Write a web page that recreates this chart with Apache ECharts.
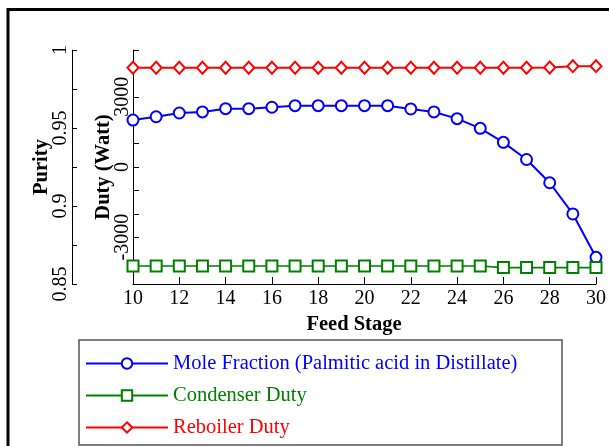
<!DOCTYPE html>
<html><head><meta charset="utf-8">
<script src="https://cdn.jsdelivr.net/npm/echarts@6/dist/echarts.min.js"></script>
<style>html,body{margin:0;padding:0;background:#fff}#c{width:609px;height:446px}</style>
</head><body><div id="c"></div>
<script>
const stages = [10,11,12,13,14,15,16,17,18,19,20,21,22,23,24,25,26,27,28,29,30];
const moleFraction = [0.9551,0.9572,0.9596,0.9603,0.9624,0.9624,0.9633,0.9643,0.9643,0.9643,0.9643,0.9643,0.9622,0.9603,0.9560,0.9498,0.9408,0.9298,0.9149,0.8949,0.8671];
const condenserDuty = [-4230,-4230,-4230,-4230,-4230,-4230,-4230,-4230,-4230,-4230,-4230,-4230,-4230,-4230,-4230,-4230,-4300,-4300,-4300,-4300,-4300];
const reboilerDuty = [4240,4240,4240,4240,4240,4240,4240,4240,4240,4240,4240,4240,4240,4240,4240,4240,4240,4240,4250,4310,4310];
const purityTicks = [0.85,0.875,0.9,0.925,0.95,0.975,1];
const purityLabels = [0.85,0.9,0.95,1];
const dutyTicks = [-5000,-3000,-2000,-1000,0,1000,3000,5000];
const dutyLabels = [-3000,0,3000];
const xTicks = [10,12,14,16,18,20,22,24,26,28,30];
const seriesNames = ['Mole Fraction (Palmitic acid in Distillate)','Condenser Duty','Reboiler Duty'];
const colors = ['#0000ff','#008000','#ff0000'];

const FONT = 'Liberation Serif';
const chart = echarts.init(document.getElementById('c'), null, {renderer:'canvas'});
const pair = arr => stages.map((s,i)=>[s,arr[i]]);
chart.setOption({
  animation:false,
  backgroundColor:'#fff',
  textStyle:{fontFamily:FONT},
  grid:{left:133,right:11,top:50,bottom:162,containLabel:false},
  xAxis:{
    type:'value',min:10,max:30,interval:2,
    name:'Feed Stage',nameLocation:'middle',nameGap:30,nameMoveOverlap:false,
    nameTextStyle:{fontFamily:FONT,fontWeight:'bold',fontSize:20.5,color:'#000',padding:[0,21,0,0]},
    axisLine:{show:true,onZero:false,lineStyle:{color:'#000',width:1}},
    axisTick:{show:true,inside:true,length:7,lineStyle:{color:'#000'},customValues:xTicks},
    axisLabel:{fontFamily:FONT,fontSize:20,color:'#000',margin:5,customValues:xTicks},
    splitLine:{show:false}
  },
  yAxis:[{
    type:'value',min:0.85,max:1,position:'left',offset:61,
    name:'Purity',nameLocation:'middle',nameGap:20,nameMoveOverlap:false,
    nameTextStyle:{fontFamily:FONT,fontWeight:'bold',fontSize:20.5,color:'#000'},
    axisLine:{show:true,onZero:false,lineStyle:{color:'#000',width:1}},
    axisTick:{show:true,inside:true,length:5,lineStyle:{color:'#000'},customValues:purityTicks},
    axisLabel:{fontFamily:FONT,fontSize:20,color:'#000',rotate:90,margin:1,customValues:purityLabels},
    splitLine:{show:false}
  },{
    type:'value',min:-5000,max:5000,position:'left',offset:0,
    name:'Duty (Watt)',nameLocation:'middle',nameGap:19,nameMoveOverlap:false,
    nameTextStyle:{fontFamily:FONT,fontWeight:'bold',fontSize:20.5,color:'#000'},
    axisLine:{show:true,onZero:false,lineStyle:{color:'#000',width:1}},
    axisTick:{show:true,inside:true,length:6,lineStyle:{color:'#000'},customValues:dutyTicks},
    axisLabel:{fontFamily:FONT,fontSize:20,color:'#000',rotate:90,margin:0,customValues:dutyLabels,formatter:v=>String(v)},
    splitLine:{show:false}
  }],
  legend:{
    orient:'vertical',left:85,top:353,padding:0,
    itemWidth:82,itemHeight:13,itemGap:11,
    textStyle:{fontFamily:FONT,fontSize:20.5,lineHeight:21},
    data:seriesNames.map((n,i)=>({name:n,textStyle:{color:colors[i]}}))
  },
  graphic:[
    {type:'rect',shape:{x:8,y:9.5,width:700,height:600},style:{fill:'none',stroke:'#000',lineWidth:3},silent:true},
    {type:'rect',shape:{x:79,y:340,width:483,height:105},style:{fill:'none',stroke:'#555',lineWidth:1.5},silent:true,z:-1}
  ],
  series:[{
    name:seriesNames[0],type:'line',yAxisIndex:0,data:pair(moleFraction),
    symbol:'emptyCircle',symbolSize:11,
    itemStyle:{color:colors[0],borderWidth:1.3},lineStyle:{color:colors[0],width:2}
  },{
    name:seriesNames[1],type:'line',yAxisIndex:1,data:pair(condenserDuty),
    symbol:'emptyRect',symbolSize:11,
    itemStyle:{color:colors[1],borderWidth:1.3},lineStyle:{color:colors[1],width:1.6}
  },{
    name:seriesNames[2],type:'line',yAxisIndex:1,data:pair(reboilerDuty),
    symbol:'emptyDiamond',symbolSize:[11,12],
    itemStyle:{color:colors[2],borderWidth:1.3},lineStyle:{color:colors[2],width:2}
  }]
});
</script></body></html>
